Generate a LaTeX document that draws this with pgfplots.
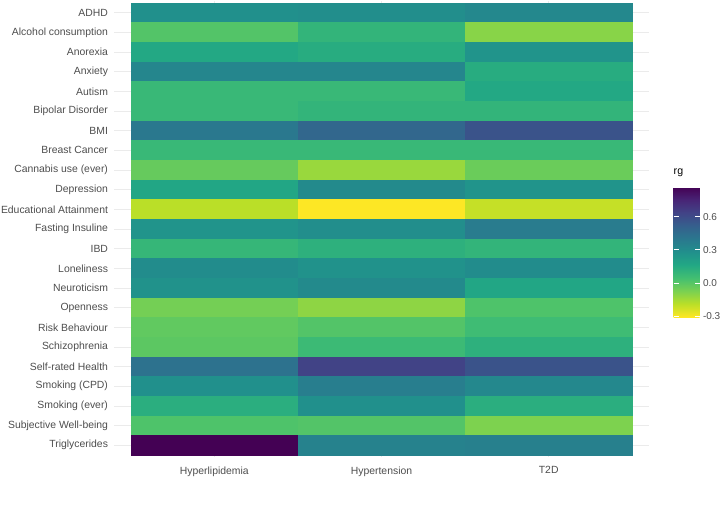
\documentclass[border=0pt]{standalone}
\usepackage{pgfplots}
\pgfplotsset{compat=1.18}
\usepackage{pgfplotstable}
\usepackage{fontspec}
\setmainfont{Liberation Sans}
\definecolor{axtext}{HTML}{4D4D4D}
\definecolor{gridc}{HTML}{EBEBEB}
\pgfplotstableread{
x y c
0 0 0.28
1 0 0.29
2 0 0.32
0 1 0.01
1 1 0.10
2 1 -0.10
0 2 0.16
1 2 0.14
2 2 0.26
0 3 0.33
1 3 0.33
2 3 0.14
0 4 0.08
1 4 0.08
2 4 0.16
0 5 0.08
1 5 0.10
2 5 0.10
0 6 0.40
1 6 0.48
2 6 0.57
0 7 0.08
1 7 0.08
2 7 0.08
0 8 -0.03
1 8 -0.13
2 8 -0.04
0 9 0.17
1 9 0.31
2 9 0.26
0 10 -0.19
1 10 -0.31
2 10 -0.21
0 11 0.26
1 11 0.29
2 11 0.38
0 12 0.09
1 12 0.12
2 12 0.10
0 13 0.30
1 13 0.27
2 13 0.30
0 14 0.27
1 14 0.31
2 14 0.17
0 15 -0.06
1 15 -0.11
2 15 0.02
0 16 -0.02
1 16 0.01
2 16 0.06
0 17 -0.01
1 17 0.07
2 17 0.12
0 18 0.43
1 18 0.64
2 18 0.57
0 19 0.28
1 19 0.37
2 19 0.32
0 20 0.13
1 20 0.28
2 20 0.13
0 21 0.02
1 21 0.01
2 21 -0.08
0 22 0.87
1 22 0.35
2 22 0.36
}\rgdata
\begin{document}
\begin{tikzpicture}
\begin{axis}[
  name=main,
  scale only axis, width=535pt, height=456pt,
  xmin=-0.6, xmax=2.6, ymin=-0.6, ymax=22.6, y dir=reverse,
  xtick={0,1,2}, xticklabels={Hyperlipidemia,Hypertension,T2D},
  ytick={0,...,22},
  yticklabels={ADHD,Alcohol consumption,Anorexia,Anxiety,Autism,Bipolar Disorder,BMI,Breast Cancer,Cannabis use (ever),Depression,Educational Attainment,Fasting Insuline,IBD,Loneliness,Neuroticism,Openness,Risk Behaviour,Schizophrenia,Self-rated Health,Smoking (CPD),Smoking (ever),Subjective Well-being,Triglycerides},
  axis line style={draw=none}, major tick length=0pt,
  grid=major, grid style={gridc, line width=0.8pt},
  tick label style={font=\fontsize{10.4}{12}\selectfont, text=axtext},
  xticklabel style={yshift=-6pt}, yticklabel style={xshift=-2.5pt},
  colormap={rvir}{rgb255=(253,231,37) rgb255=(187,223,39) rgb255=(122,209,81) rgb255=(67,191,113) rgb255=(34,168,132) rgb255=(33,144,140) rgb255=(42,120,142) rgb255=(53,96,141) rgb255=(65,68,135) rgb255=(72,37,118) rgb255=(68,1,84)},
  point meta min=-0.31, point meta max=0.87,
  colorbar,
  colorbar/width=26pt,
  colorbar style={
    at={(main.north east)}, anchor=north west, xshift=16pt, yshift=-186pt,
    scale only axis, width=26pt, height=130pt,
    ytick={-0.3,0,0.3,0.6}, yticklabels={-0.3,0.0,0.3,0.6},
    axis line style={draw=none}, grid=none, axis on top,
    major tick length=5pt, tick align=inside,
    ytick pos=both, yticklabel pos=right,
    tick style={white, line width=0.6pt},
    yticklabel style={font=\fontsize{10}{12}\selectfont, text=axtext, xshift=0pt},
    title={rg}, title style={at={(0,1)}, anchor=south west, inner sep=0pt, yshift=4pt, font=\fontsize{10.6}{12}\selectfont, text=black},
  },
]
\addplot[matrix plot*, mesh/cols=3, point meta=explicit] table[x=x, y=y, meta=c]{\rgdata};
\end{axis}
\pgfresetboundingbox
\path (main.north west) ++(-114pt,1pt) rectangle ++(722pt,-507pt);
\end{tikzpicture}
\end{document}
